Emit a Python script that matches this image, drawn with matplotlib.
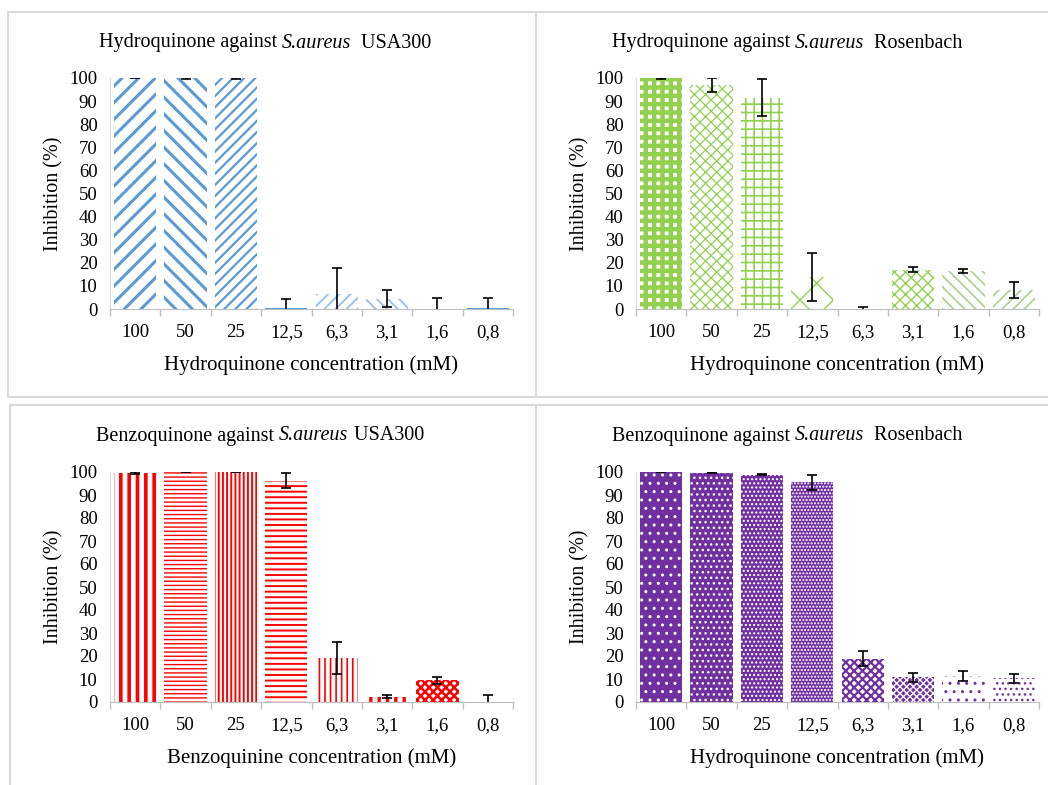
import matplotlib
matplotlib.use("Agg")
import matplotlib.pyplot as plt
import numpy as np
from matplotlib.lines import Line2D

plt.rcParams['font.family'] = ['Liberation Serif', 'DejaVu Serif']

concentrations = ["100", "50", "25", "12,5", "6,3", "3,1", "1,6", "0,8"]

hq_usa300 = [100, 100, 100, 0.3, 6.3, 4.5, 0, 0.3]
hq_usa300_err = [0, 0.3, 0.3, 4.0, 11.5, 3.6, 4.8, 4.3]

hq_rosenbach = [100, 97, 91.5, 13.8, 0, 17, 16.6, 8.3]
hq_rosenbach_err = [0.3, 3.0, 8.0, 10.3, 1.0, 1.1, 0.8, 3.5]

bq_usa300 = [99.5, 100, 100, 96.3, 19.2, 2.3, 9.4, 0.2]
bq_usa300_err = [0.5, 0.2, 0.2, 3.3, 6.9, 0.7, 1.5, 3.0]

bq_rosenbach = [100, 99.7, 98.8, 95.5, 18.8, 10.7, 11.3, 10.3]
bq_rosenbach_err = [0, 0.3, 0.3, 3.2, 3.2, 2.0, 2.0, 2.0]

W, H = 1048, 785
fig = plt.figure(figsize=(W / 100, H / 100), dpi=100)


def px(x, y):
    return x / W, 1 - y / H


# table cell borders
grid_c = '#D9D9D9'
for (x0, y0), (x1, y1) in [
    ((8, 12), (1048, 12)), ((8, 12), (8, 397)), ((8, 397), (1048, 397)),
    ((536, 12), (536, 397)),
    ((10, 405), (1048, 405)), ((10, 405), (10, 785)), ((536, 405), (536, 785)),
]:
    a, b = px(x0, y0)
    c, d = px(x1, y1)
    fig.add_artist(Line2D([a, c], [b, d], color=grid_c, lw=1.5))

blue = '#5B9BD5'
green = '#92D050'
red = '#FF0000'
purple = '#7030A0'

# (facecolor, hatch colour, hatch, hatch linewidth) for each bar
style_hq_usa = [
    ('white', blue, '//', 2.2), ('white', blue, '\\\\', 2.2),
    ('white', blue, '///', 1.6), (blue, blue, '', 1.0),
    ('white', '#9DC3E6', '///', 1.4), ('white', '#9DC3E6', '\\\\\\', 1.4),
    ('white', blue, '', 1.0), (blue, blue, '', 1.0),
]
style_hq_ros = [
    ('white', green, '++', 3.2), ('white', green, 'xxx', 0.9),
    ('white', green, '++', 1.2), ('white', green, 'x', 1.0),
    ('white', green, '', 1.0), ('white', green, 'xxx', 1.0),
    ('white', '#A9D18E', '\\\\\\', 1.2), ('white', '#A9D18E', '///', 1.2),
]
style_bq_usa = [
    ('white', red, '||', 2.6), ('white', red, '----', 1.0),
    ('white', red, '||||', 1.4), ('white', red, '---', 1.4),
    ('white', red, '|||', 1.2), ('white', red, '||', 2.4),
    ('white', red, 'xxxx', 1.8), (red, red, '', 1.0),
]
style_bq_ros = [
    (purple, 'white', '..', 1.0), (purple, 'white', '...', 1.0),
    (purple, 'white', '....', 1.0), (purple, 'white', '.....', 1.0),
    ('white', purple, 'xxxx', 1.6), (purple, 'white', 'xxxxx', 1.0),
    ('white', purple, '..', 1.0), ('white', purple, '...', 1.0),
]

panels = [
    (110, 78, 309, hq_usa300, hq_usa300_err, style_hq_usa, 'Hydroquinone concentration (mM)'),
    (636, 78, 309, hq_rosenbach, hq_rosenbach_err, style_hq_ros, 'Hydroquinone concentration (mM)'),
    (110, 472, 702, bq_usa300, bq_usa300_err, style_bq_usa, 'Benzoquinine concentration (mM)'),
    (636, 472, 702, bq_rosenbach, bq_rosenbach_err, style_bq_ros, 'Hydroquinone concentration (mM)'),
]

# title centre (px) and its three parts: plain, italic, plain
titles = [
    (265, 43, ['Hydroquinone against ', 'S.aureus', '  USA300']),
    (787, 43, ['Hydroquinone against ', 'S.aureus', '  Rosenbach']),
    (260, 436, ['Benzoquinone against ', 'S.aureus', ' USA300']),
    (787, 436, ['Benzoquinone against ', 'S.aureus', '  Rosenbach']),
]

x = np.arange(len(concentrations))
for left, top, bottom, vals, errs, styles, xlabel in panels:
    l, b = px(left, bottom)
    ax = fig.add_axes([l, b, 403 / W, (bottom - top) / H])
    for i, v in enumerate(vals):
        fc, hc, hatch, hlw = styles[i]
        with plt.rc_context({'hatch.linewidth': hlw}):
            bars = ax.bar(x[i], v, width=0.84, color=fc, edgecolor=hc,
                          hatch=hatch, linewidth=0)
            for p in bars:
                if hasattr(p, 'set_hatch_linewidth'):
                    p.set_hatch_linewidth(hlw)
    ax.errorbar(x, vals, yerr=errs, fmt='none', ecolor='black',
                elinewidth=1.2, capsize=3.5, capthick=1.2)
    ax.set_xlim(-0.5, len(x) - 0.5)
    ax.set_ylim(0, 100)
    ax.set_yticks(range(0, 101, 10))
    ax.set_xticks(x)
    ax.set_xticklabels(concentrations)
    ax.set_xticks(np.arange(-0.5, len(x), 1), minor=True)
    ax.tick_params(axis='x', which='major', length=0, pad=11, labelsize=13.5)
    ax.tick_params(axis='x', which='minor', length=5, color='#BFBFBF', width=1)
    ax.tick_params(axis='y', length=0, pad=9, labelsize=13.5)
    for s in ['top', 'right']:
        ax.spines[s].set_visible(False)
    ax.spines['left'].set_color('#D9D9D9')
    ax.spines['bottom'].set_color('#BFBFBF')
    ax.set_xlabel(xlabel, fontsize=15, labelpad=10)
    ax.set_ylabel('Inhibition (%)', fontsize=14.5, labelpad=4)

# titles: lay the plain/italic pieces side by side, then centre the row
renderer = fig.canvas.get_renderer()
for tx, ty, parts in titles:
    pieces = []
    for j, s in enumerate(parts):
        t = fig.text(0, 1 - ty / H, s, ha='left', va='center', fontsize=14.5,
                     style='italic' if j == 1 else 'normal')
        pieces.append(t)
    widths = [p.get_window_extent(renderer).width for p in pieces]
    cur = tx - sum(widths) / 2
    for p, w in zip(pieces, widths):
        p.set_x(cur / W)
        cur += w

fig.savefig('out.png', dpi=100)
